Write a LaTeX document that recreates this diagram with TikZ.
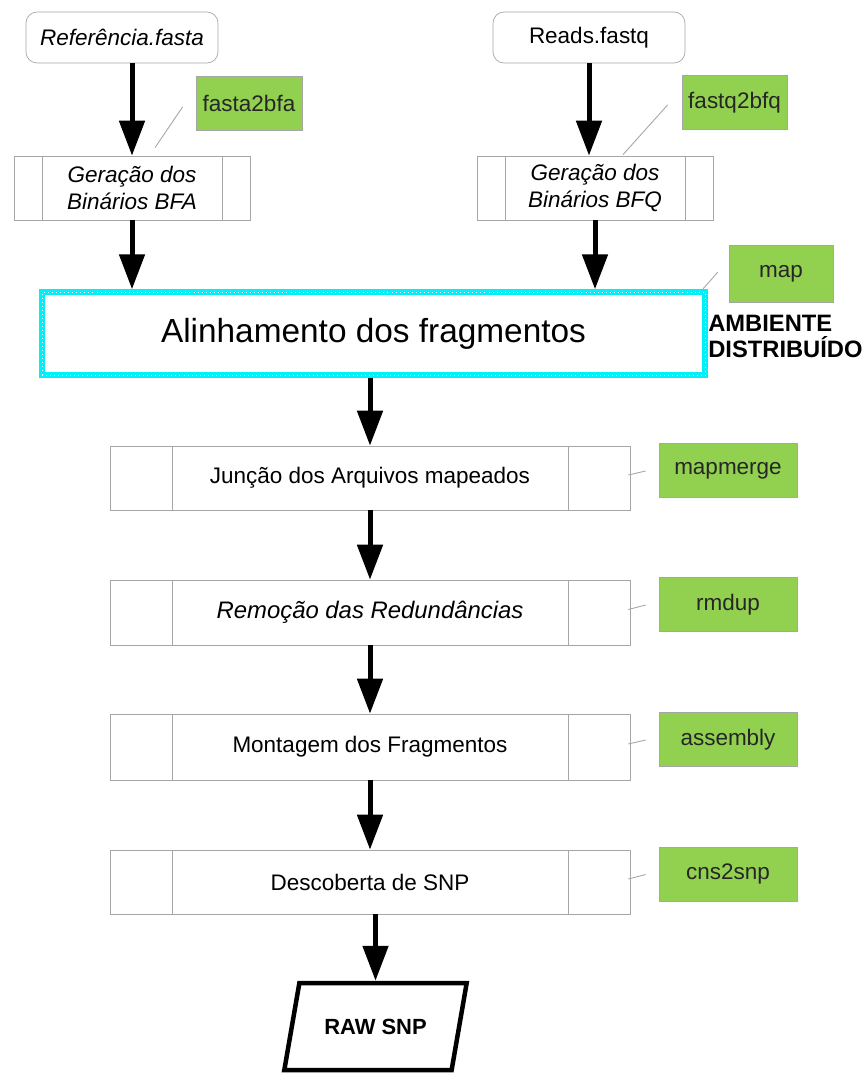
\documentclass[tikz,border=0pt]{standalone}
\usepackage{fontspec}
\setmainfont{Liberation Sans}
\usepackage{tikz}
\usetikzlibrary{calc,arrows.meta,shapes.geometric}
\definecolor{labgreen}{HTML}{92D050}
\definecolor{boxgray}{HTML}{A6A6A6}
\definecolor{distcyan}{HTML}{00F0F8}
\tikzset{
  flowarrow/.style={line width=0.1cm, -{Triangle[length=0.7cm,width=0.5cm]}},
  startbox/.style={draw=boxgray, rounded corners=0.22cm, fill=white,
    minimum width=3.84cm, minimum height=1.02cm},
  procbox/.style={draw=boxgray, fill=white, align=center,
    path picture={
      \draw[boxgray] ([xshift=#1]path picture bounding box.north west)
        -- ([xshift=#1]path picture bounding box.south west);
      \draw[boxgray] ([xshift=-#1]path picture bounding box.north east)
        -- ([xshift=-#1]path picture bounding box.south east);
    }
  },
  toolbox/.style={draw=boxgray, fill=labgreen, text=black!85,
    minimum height=1.08cm},
  callout/.style={draw=boxgray, line width=0.5pt}
}

\begin{document}
\begin{tikzpicture}[x=0.02cm, y=-0.02cm, font=\fontsize{12.8}{15}\selectfont]
  \useasboundingbox (0,0) rectangle (864,1075);

  % input files
  \node[startbox] (ref) at (122,37.5) {\itshape Referência.fasta};
  \node[startbox] (reads) at (589,37.5) {Reads.fastq};

  % binary conversion
  \node[procbox=0.56cm, minimum width=4.72cm, minimum height=1.28cm] (bfa) at (132,188)
    {\itshape Geração dos\\\itshape Binários BFA};
  \node[procbox=0.56cm, minimum width=4.72cm, minimum height=1.28cm] (bfq) at (595,188)
    {\itshape Geração dos\\\itshape Binários BFQ};

  \node[toolbox, minimum width=2.12cm] (fasta2bfa) at (249,103.5) {fasta2bfa};
  \node[toolbox, minimum width=2.1cm] (fastq2bfq) at (734.5,102.5) {fastq2bfq};

  % distributed step
  \node[draw=distcyan, line width=0.11cm, fill=white,
    postaction={draw=white!90!cyan, dotted, line width=0.3pt},
    minimum width=13.26cm, minimum height=1.66cm,
    font=\fontsize{19}{22}\selectfont] (align) at (373.5,333.5) {Alinhamento dos fragmentos};
  \node[toolbox, minimum width=2.08cm, minimum height=1.14cm] (map) at (781,273.5) {map};
  \node[anchor=west, align=left, inner sep=0pt,
    font=\fontsize{13.5}{15.3}\selectfont\bfseries] (amb) at (708,336.5) {AMBIENTE\\DISTRIBUÍDO};

  % serial steps
  \node[procbox=1.24cm, minimum width=10.4cm, minimum height=1.28cm] (junc) at (370,478)
    {Junção dos Arquivos mapeados};
  \node[procbox=1.24cm, minimum width=10.4cm, minimum height=1.3cm,
    font=\fontsize{13.6}{16}\selectfont\itshape] (remo) at (370,612.5)
    {Remoção das Redundâncias};
  \node[procbox=1.24cm, minimum width=10.4cm, minimum height=1.32cm] (mont) at (370,747)
    {Montagem dos Fragmentos};
  \node[procbox=1.24cm, minimum width=10.4cm, minimum height=1.28cm] (desc) at (370,882)
    {Descoberta de SNP};

  \node[toolbox, minimum width=2.76cm] (mapmerge) at (728,470.5) {mapmerge};
  \node[toolbox, minimum width=2.76cm] (rmdup) at (728,604.5) {rmdup};
  \node[toolbox, minimum width=2.76cm] (assembly) at (728,739.5) {assembly};
  \node[toolbox, minimum width=2.76cm] (cns2snp) at (728,874) {cns2snp};

  % output
  \node[trapezium, trapezium left angle=67.5, trapezium right angle=112.5,
    trapezium stretches=true, draw, line width=0.09cm, fill=white,
    minimum width=3.66cm, minimum height=1.74cm,
    font=\fontsize{12.5}{15}\selectfont\bfseries] (raw) at (375.5,1026.5) {RAW SNP};

  % flow
  \draw[flowarrow] (ref.south -| bfa.north) -- (bfa.north);
  \draw[flowarrow] (reads.south) -- (reads.south |- bfq.north);
  \draw[flowarrow] (bfa.south) -- (bfa.south |- align.north);
  \draw[flowarrow] (bfq.south) -- (bfq.south |- align.north);
  \draw[flowarrow] (align.south -| junc.north) -- (junc.north);
  \draw[flowarrow] (junc) -- (remo);
  \draw[flowarrow] (remo) -- (mont);
  \draw[flowarrow] (mont) -- (desc);
  \draw[flowarrow] (desc.south -| raw.north) -- (raw.north);

  % tool callouts
  \draw[callout] ($(bfa.north)+(23,-8)$) -- ($(fasta2bfa.south west)+(-13,-24)$);
  \draw[callout] ($(bfq.north)+(28,-1)$) -- ($(fastq2bfq.south west)+(-14,-25)$);
  \draw[callout] ($(align.north east)+(-5,0)$) -- ($(map.south west)+(-11,-30)$);
  \draw[callout] ($(junc.east)+(-2,-3)$) -- ($(mapmerge.west)+(-13,0.5)$);
  \draw[callout] ($(remo.east)+(-2,-3)$) -- ($(rmdup.west)+(-13,0.5)$);
  \draw[callout] ($(mont.east)+(-2,-3)$) -- ($(assembly.west)+(-13,0.5)$);
  \draw[callout] ($(desc.east)+(-2,-3)$) -- ($(cns2snp.west)+(-13,0.5)$);
\end{tikzpicture}
\end{document}
